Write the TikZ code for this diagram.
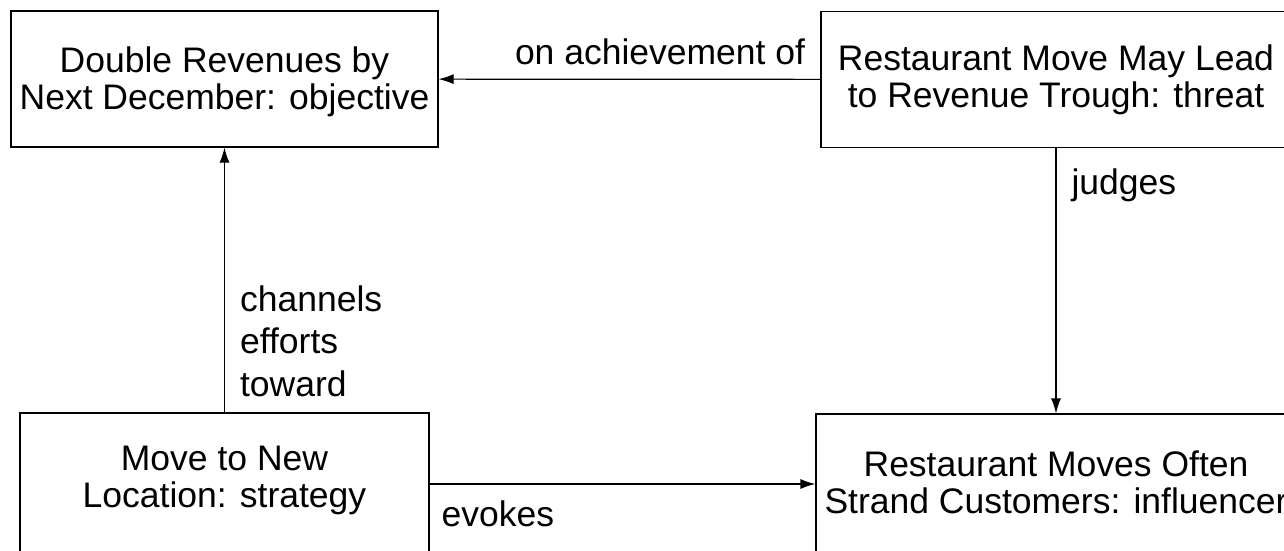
\documentclass[tikz,border=0pt]{standalone}
\usepackage{fontspec}
\setmainfont{Liberation Sans}
\usetikzlibrary{arrows.meta}

\begin{document}
\begin{tikzpicture}[x=1pt, y=-1pt, line width=1.2pt, font=\fontsize{35.5}{37}\selectfont,
                    link/.style={-{Latex[length=15pt,width=10pt]}},
                    concept/.style={rectangle,draw,align=center,inner sep=0pt,
                                    minimum height=136pt}]
  \useasboundingbox (0,0) rectangle (1284,550);
  \clip (0,0) rectangle (1284,550);

  \node[concept, minimum width=427pt, text depth=2pt] (objective) at (224.5,79)
    {Double Revenues by\\Next December: objective};
  \node[concept, minimum width=470pt] (threat) at (1056,79.5)
    {Restaurant Move May Lead\\to Revenue Trough: threat};
  \node[concept, minimum width=409pt, minimum height=142pt, text depth=14pt] (strategy) at (224.5,484)
    {Move to New\\Location: strategy};
  \node[concept, minimum width=480pt, minimum height=140pt, text depth=4pt] (influencer) at (1056,484)
    {Restaurant Moves Often\\Strand Customers: influencer};

  \path[link, every node/.style={inner sep=15pt}]
    (threat) edge node[above, pos=0.42, inner sep=13.5pt] {on achievement of} (objective)
    (strategy) edge node[right, align=left, pos=0.27, font=\fontsize{35.5}{42.5}\selectfont]
                 {channels\\efforts\\toward} (objective)
               edge node[below right, pos=0, inner sep=11.5pt, yshift=-5pt] {evokes} (influencer)
    (threat) edge node[right, pos=0.14] {judges} (influencer);
\end{tikzpicture}
\end{document}
